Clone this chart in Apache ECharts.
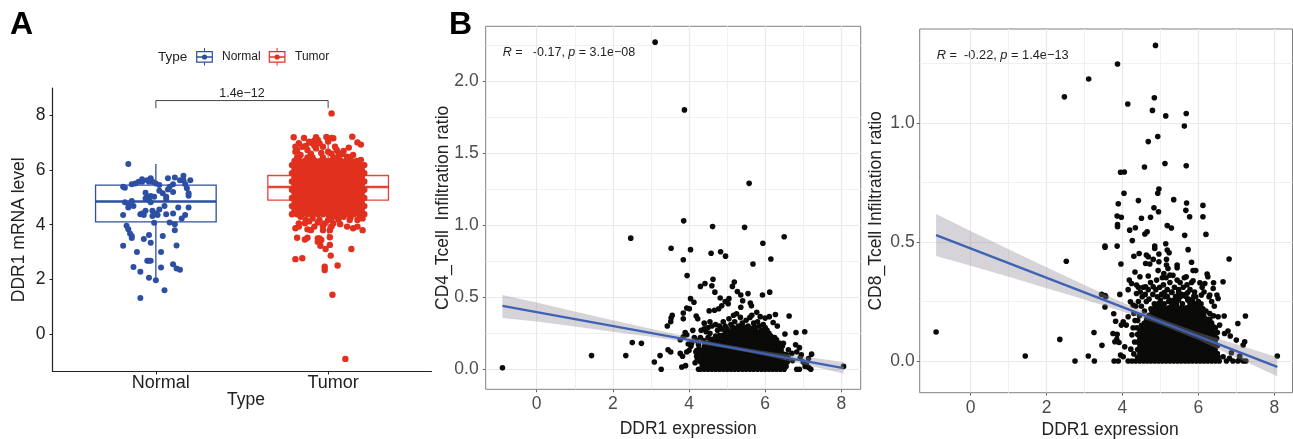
<!DOCTYPE html>
<html><head><meta charset="utf-8">
<style>html,body{margin:0;padding:0;background:#fff}#c{width:1293px;height:439px}</style>
<script src="https://cdn.jsdelivr.net/npm/echarts@6/dist/echarts.min.js"></script>
</head><body><div id="c"></div>
<script>
const typeNames = ['Normal', 'Tumor'];
// [centre, low whisker, Q1, median, Q3, high whisker]
const boxNormal = [1, 2.0, 4.1, 4.85, 5.45, 6.22];
const boxTumor = [2, 3.6, 4.9, 5.38, 5.8, 7.2];
const boxHalfWidth = 0.35;
const bracketValues = [[1, 8.26], [1, 8.54], [2, 8.54], [2, 8.26]];

const normalPoints = [[.84,6.22],[.81,5.39],[.82,5.35],[.86,5.48],[.88,5.51],[.90,5.57],[.92,5.66],[.92,5.57],[.95,5.63],[.97,5.70],[.96,5.57],[.98,5.57],[1.00,5.51],[1.02,5.45],[1.02,5.24],[1.07,5.70],[1.11,5.73],[1.16,5.79],[1.14,5.63],[1.16,5.63],[1.20,5.63],[1.17,5.49],[1.18,5.33],[1.19,5.15],[1.19,5.06],[1.10,5.48],[1.08,5.39],[1.07,5.29],[1.10,5.20],[1.04,5.15],[1.06,5.02],[1.06,4.94],[.94,5.17],[.95,5.02],[.97,5.05],[.99,5.02],[.94,4.96],[.96,4.90],[.97,4.82],[.82,4.82],[.84,4.76],[.86,4.87],[.87,4.68],[.84,4.63],[.81,4.35],[.92,4.41],[.94,4.51],[.91,4.38],[.93,4.35],[.98,4.51],[1.0,4.41],[.98,4.32],[1.01,4.35],[1.02,4.56],[1.05,4.68],[1.06,4.38],[1.10,4.41],[1.13,4.63],[1.19,4.63],[1.17,4.35],[1.15,4.23],[.99,4.07],[1.08,4.08],[1.11,4.02],[.83,3.96],[.84,3.83],[.85,3.68],[.86,3.59],[.86,3.51],[.96,3.62],[.93,3.48],[1.04,3.59],[1.11,3.80],[.97,3.34],[1.12,3.24],[.81,3.23],[.89,3.0],[1.03,3.0],[.95,2.68],[.96,2.68],[.97,2.68],[.87,2.45],[1.03,2.43],[1.10,2.55],[1.12,2.40],[1.14,2.35],[.91,2.28],[.96,2.06],[1.0,1.97],[1.05,1.60],[.91,1.32]];

const tumorSparse = [[1.80,7.20],[1.86,7.17],[1.93,7.20],[1.99,7.21],[2.02,7.17],[2.03,7.16],[2.14,7.22],[2.17,7.01],[2.19,6.93],[1.90,7.0],[1.92,7.07],[1.94,7.10],[1.83,6.98],[1.81,6.85],[1.85,6.85],[1.87,6.88],[1.89,7.04],[1.92,6.89],[1.95,6.98],[1.97,6.85],[2.0,7.04],[2.04,6.85],[2.05,6.73],[2.09,6.70],[2.12,6.82],[1.81,6.67],[1.82,6.73],[1.84,6.55],[1.88,6.73],[1.93,6.79],[2.0,6.67],[2.11,6.49],[2.145,6.55],[2.19,6.37],[1.81,3.87],[1.83,3.93],[1.82,3.52],[1.865,3.46],[1.88,3.52],[1.88,3.83],[1.90,3.80],[1.92,3.93],[1.97,3.80],[2.01,3.80],[2.02,3.93],[1.95,4.17],[2.03,4.05],[2.07,4.02],[2.11,3.93],[2.145,3.87],[2.17,3.93],[2.2,3.80],[2.2,4.23],[2.17,4.17],[2.125,4.17],[1.94,3.5],[1.95,3.5],[1.94,3.38],[1.96,3.44],[1.955,3.23],[2.01,3.54],[2.01,3.26],[1.985,3.11],[2.015,2.87],[2.135,3.11],[1.81,2.74],[1.85,2.77],[1.98,2.46],[1.98,2.34],[2.055,2.51],[2.025,1.44],[2.10,-0.91],[2.02,8.07],[1.84,4.29],[1.87,4.17],[1.91,4.23],[1.865,4.05],[1.83,4.05],[2,4.17],[2.05,4.29],[2.09,4.29],[1.98,4.05],[1.96,6.62],[2.02,6.6],[2.06,6.62],[1.9,6.6],[2.08,6.58],[1.94,4.08],[2.02,4.22],[2.13,4.26],[1.89,4.12],[1.97,3.95],[2.06,4.18]];
// overplotted mass: [y, [x...]] read row by row
const tumorMass = [
[4.38,[1.79,1.82,1.85,1.88,1.91,1.94,1.97,2.0,2.03,2.06,2.09,2.12,2.15,2.18,2.21]],
[4.53,[1.805,1.835,1.865,1.895,1.925,1.955,1.985,2.015,2.045,2.075,2.105,2.135,2.165,2.195]],
[4.68,[1.79,1.82,1.85,1.88,1.91,1.94,1.97,2.0,2.03,2.06,2.09,2.12,2.15,2.18,2.21]],
[4.83,[1.805,1.835,1.865,1.895,1.925,1.955,1.985,2.015,2.045,2.075,2.105,2.135,2.165,2.195]],
[4.98,[1.79,1.82,1.85,1.88,1.91,1.94,1.97,2.0,2.03,2.06,2.09,2.12,2.15,2.18,2.21]],
[5.13,[1.805,1.835,1.865,1.895,1.925,1.955,1.985,2.015,2.045,2.075,2.105,2.135,2.165,2.195]],
[5.28,[1.79,1.82,1.85,1.88,1.91,1.94,1.97,2.0,2.03,2.06,2.09,2.12,2.15,2.18,2.21]],
[5.43,[1.805,1.835,1.865,1.895,1.925,1.955,1.985,2.015,2.045,2.075,2.105,2.135,2.165,2.195]],
[5.58,[1.79,1.82,1.85,1.88,1.91,1.94,1.97,2.0,2.03,2.06,2.09,2.12,2.15,2.18,2.21]],
[5.73,[1.805,1.835,1.865,1.895,1.925,1.955,1.985,2.015,2.045,2.075,2.105,2.135,2.165,2.195]],
[5.88,[1.79,1.82,1.85,1.88,1.91,1.94,1.97,2.0,2.03,2.06,2.09,2.12,2.15,2.18,2.21]],
[6.03,[1.805,1.835,1.865,1.895,1.925,1.955,1.985,2.015,2.045,2.075,2.105,2.135,2.165,2.195]],
[6.18,[1.79,1.82,1.85,1.88,1.91,1.94,1.97,2.0,2.03,2.06,2.09,2.12,2.15,2.18,2.21]],
[6.33,[1.805,1.835,1.865,1.895,1.925,1.955,1.985,2.015,2.045,2.075,2.105,2.135,2.165]],
[6.46,[1.82,1.88,1.91,1.97,2.03,2.06,2.12]]];

const cd4Sparse = [[-0.90,.01],[3.11,2.27],[3.88,1.80],[5.58,1.29],[3.86,1.03],[4.62,.99],[5.46,.985],[2.47,.91],[6.50,.92],[5.94,.875],[3.53,.84],[4.04,.83],[4.58,.805],[4.83,.815],[4.96,.785],[3.85,.76],[6.15,.765],[5.68,.73],[3.95,.65],[4.63,.625],[5.19,.605],[4.42,.595],[4.30,.575],[4.60,.58],[5.14,.575],[5.27,.54],[4.68,.535],[6.12,.535],[5.36,.515],[5.55,.525],[5.93,.515],[4.04,.49],[4.13,.465],[4.82,.495],[5.05,.49],[5.41,.475],[4.95,.47],[5.61,.46],[5.03,.455],[4.86,.44],[5.64,.44],[5.36,.43],[3.94,.425],[4.01,.42],[4.53,.405],[4.67,.41],[4.78,.42],[3.85,.39],[3.56,.375],[3.53,.355],[3.85,.35],[3.43,.30],[3.52,.33],[4.19,.37],[4.23,.35],[6.63,.37],[6.27,.38],[6.11,.365],[5.78,.395],[5.65,.375],[5.25,.385],[5.17,.375],[5.87,.365],[6.0,.355],[6.21,.325],[6.32,.30],[5.95,.31],[6.81,.255],[7.04,.26],[6.52,.245],[3.90,.255],[3.94,.24],[3.85,.225],[3.77,.205],[2.51,.185],[2.75,.18],[1.44,.095],[2.34,.095],[3.24,.095],[3.09,.05],[3.27,0],[3.45,.135],[3.52,.12],[3.77,.11],[3.83,.09],[3.94,.12],[4.05,.16],[3.98,.175],[4.18,.12],[4.2,.09],[4.16,.045],[3.81,.015],[3.91,.025],[4.25,0],[8.06,.02],[6.80,.17],[6.90,.15],[6.83,.12],[7.22,.105],[7.14,.075],[7.09,.03],[7.2,0],[6.83,0],[6.9,0],[6.61,.135],[6.70,.11],[6.48,.18],[6.30,.205],[4.32,.27],[4.4,.28],[4.45,.26],[4.5,.29],[4.55,.25],[4.6,.3],[4.7,.31],[4.75,.27],[4.8,.3],[4.85,.28],[4.9,.33],[4.95,.3],[5,.28],[5.05,.35],[5.1,.31],[5.15,.29],[5.2,.33],[5.3,.3],[5.35,.36],[5.4,.32],[5.45,.29],[5.5,.34],[5.55,.3],[5.6,.36],[5.7,.32],[5.75,.29],[5.8,.33],[5.85,.3],[5.9,.27],[6,.29],[6.05,.27],[6.1,.25],[6.15,.23],[6.25,.22],[6.3,.19],[6.4,.18],[6.45,.16],[4.3,.22],[4.38,.2],[4.42,.18],[4.5,.22],[4.6,.2],[4.7,.23],[4.2,.2],[4.25,.17],[4.2,.13],[4.28,.1],[4.22,.07],[4.26,.14],[4.1,.27],[4.14,.22],[4.07,.18],[4.0,.13],[4.55,.33],[4.4,.32],[6.56,.1],[6.6,.08],[6.58,.05],[6.55,.02],[6.72,.06],[6.95,.1],[7.0,.05],[6.92,.08],[7.05,.02],[7.15,.01]];
const cd4Mass = [
[0,[4.3,4.4,4.5,4.6,4.7,4.8,4.9,5.0,5.1,5.2,5.3,5.4,5.5,5.6,5.7,5.8,5.9,6.0,6.1,6.2,6.3,6.4,6.5]],
[.026,[4.35,4.45,4.55,4.65,4.75,4.85,4.95,5.05,5.15,5.25,5.35,5.45,5.55,5.65,5.75,5.85,5.95,6.05,6.15,6.25,6.35,6.45]],
[.052,[4.3,4.4,4.5,4.6,4.7,4.8,4.9,5.0,5.1,5.2,5.3,5.4,5.5,5.6,5.7,5.8,5.9,6.0,6.1,6.2,6.3,6.4,6.5]],
[.078,[4.35,4.45,4.55,4.65,4.75,4.85,4.95,5.05,5.15,5.25,5.35,5.45,5.55,5.65,5.75,5.85,5.95,6.05,6.15,6.25,6.35,6.45]],
[.104,[4.3,4.4,4.5,4.6,4.7,4.8,4.9,5.0,5.1,5.2,5.3,5.4,5.5,5.6,5.7,5.8,5.9,6.0,6.1,6.2,6.3,6.4,6.5]],
[.13,[4.35,4.45,4.55,4.65,4.75,4.85,4.95,5.05,5.15,5.25,5.35,5.45,5.55,5.65,5.75,5.85,5.95,6.05,6.15,6.25,6.35,6.42]],
[.156,[4.4,4.5,4.6,4.7,4.8,4.9,5.0,5.1,5.2,5.3,5.4,5.5,5.6,5.7,5.8,5.9,6.0,6.1,6.2,6.3,6.36]],
[.182,[4.5,4.55,4.65,4.75,4.85,4.95,5.05,5.15,5.25,5.35,5.45,5.55,5.65,5.75,5.85,5.95,6.05,6.15,6.25,6.3]],
[.208,[4.6,4.7,4.8,4.9,5.0,5.1,5.2,5.3,5.4,5.5,5.6,5.7,5.8,5.9,6.0,6.1,6.2]],
[.234,[4.8,4.85,4.95,5.05,5.15,5.25,5.35,5.45,5.55,5.65,5.75,5.85,5.95,6.05,6.1]],
[.26,[4.95,5.05,5.15,5.25,5.35,5.45,5.55,5.65,5.75,5.85,5.95,6.0]],
[.286,[5.15,5.25,5.35,5.5,5.6,5.7]]];
const cd4Line = [[-0.9,.44],[8.06,.008]];
// [x, lower, upper]
const cd4Band = [[-.9,.355,.515],[0,.331,.463],[1,.297,.401],[2,.261,.341],[3,.225,.281],[4,.187,.223],[5,.144,.170],[6,.093,.125],[7,.034,.088],[8.06,-.03,.05]];

const cd8Sparse = [[4.87,1.326],[3.87,1.248],[3.11,1.185],[2.47,1.11],[4.84,1.106],[4.14,1.08],[4.79,1.053],[5.14,1.03],[5.68,1.04],[5.63,.987],[4.93,.943],[4.68,.922],[4.58,.815],[5.12,.83],[5.68,.82],[3.95,.793],[4.05,.794],[4.96,.723],[4.93,.705],[4.04,.705],[4.42,.674],[5.35,.678],[3.89,.661],[5.69,.664],[6.12,.654],[4.83,.644],[4.95,.627],[5.67,.633],[3.86,.609],[3.97,.604],[4.5,.60],[4.74,.604],[5.77,.606],[6.12,.606],[3.87,.573],[3.87,.564],[4.19,.55],[4.34,.56],[5.18,.569],[5.29,.559],[4.59,.534],[4.65,.543],[5.64,.528],[6.2,.532],[4.26,.506],[3.54,.483],[3.54,.478],[3.86,.483],[5.14,.493],[4.85,.483],[4.85,.473],[5.18,.466],[5.23,.455],[5.73,.468],[4.44,.452],[4.63,.445],[4.68,.438],[4.96,.45],[4.30,.44],[4.81,.427],[6.81,.429],[5.16,.427],[2.52,.419],[3.96,.408],[4.61,.41],[4.72,.408],[4.96,.417],[5.16,.403],[5.44,.403],[5.82,.415],[5.44,.392],[5.2,.389],[4.94,.38],[5.86,.38],[5.93,.38],[4.33,.374],[5.09,.368],[5.25,.361],[6.23,.366],[4.46,.354],[4.68,.357],[5.68,.354],[6.25,.354],[5.86,.337],[4.18,.34],[6.65,.333],[6.4,.329],[6.04,.329],[6.17,.326],[4.24,.326],[4.37,.319],[4.61,.312],[4.81,.312],[6.39,.305],[3.45,.28],[3.54,.275],[3.56,.27],[3.93,.28],[4.15,.30],[4.37,.284],[6.08,.277],[6.3,.277],[6.49,.277],[6.52,.263],[3.54,.227],[3.77,.199],[3.82,.167],[4.21,.249],[4.28,.235],[4.15,.186],[4.02,.165],[4.1,.151],[3.97,.151],[3.25,.12],[-.91,.122],[2.35,.091],[1.44,.021],[3.46,.066],[3.10,.021],[2.75,0],[3.26,0],[3.78,0],[3.89,0],[3.75,.116],[3.86,.112],[3.85,.091],[3.80,.081],[3.91,.078],[4.06,.06],[3.95,.025],[4.02,.018],[4.15,0],[8.08,.021],[7.24,.189],[7.04,.158],[6.68,.189],[6.52,.186],[6.56,.151],[6.78,.126],[6.84,.105],[6.69,.116],[7.0,.088],[7.22,.081],[7.18,.067],[6.87,.035],[7.09,.021],[6.65,.018],[6.74,0],[6.91,0],[7.04,0],[7.18,0],[7.25,0],[6.82,.011],[7.09,.007],[4.42,.31],[4.47,.29],[4.52,.27],[4.42,.25],[4.5,.23],[4.55,.31],[4.6,.28],[4.63,.25],[4.58,.21],[4.68,.3],[4.7,.26],[4.74,.33],[4.75,.22],[4.8,.28],[4.84,.24],[4.88,.3],[4.9,.34],[4.92,.27],[4.98,.31],[5.0,.24],[5.03,.28],[5.05,.35],[5.08,.32],[5.12,.27],[5.15,.35],[5.18,.3],[5.22,.25],[5.25,.33],[5.3,.29],[5.33,.36],[5.37,.31],[5.4,.27],[5.44,.34],[5.48,.3],[5.52,.33],[5.56,.28],[5.6,.31],[5.63,.35],[5.67,.28],[5.7,.32],[5.74,.26],[5.78,.3],[5.82,.33],[5.85,.24],[5.9,.29],[5.93,.27],[5.97,.22],[6.0,.25],[6.03,.2],[6.07,.24],[6.12,.22],[6.15,.18],[6.2,.21],[6.25,.17],[6.3,.2],[6.35,.16],[6.4,.19],[6.42,.23],[6.45,.14],[6.5,.12],[6.35,.25],[6.28,.27],[6.15,.29],[6.1,.31],[4.35,.23],[4.3,.2],[4.33,.17],[4.28,.14],[4.25,.11],[4.32,.08],[4.22,.05],[4.3,.03],[4.4,.17],[4.45,.19],[4.38,.14],[4.5,.15]];
const cd8Mass = [
[0,[4.25,4.35,4.45,4.55,4.65,4.75,4.85,4.95,5.05,5.15,5.25,5.35,5.45,5.55,5.65,5.75,5.85,5.95,6.05,6.15,6.25,6.35,6.45,6.55]],
[.016,[4.4,4.52,4.64,4.76,4.88,5.0,5.12,5.24,5.36,5.48,5.6,5.72,5.84,5.96,6.08,6.2,6.32,6.44,6.52]],
[.032,[4.46,4.58,4.7,4.82,4.94,5.06,5.18,5.3,5.42,5.54,5.66,5.78,5.9,6.02,6.14,6.26,6.38,6.5]],
[.048,[4.4,4.52,4.64,4.76,4.88,5.0,5.12,5.24,5.36,5.48,5.6,5.72,5.84,5.96,6.08,6.2,6.32,6.44]],
[.064,[4.46,4.58,4.7,4.82,4.94,5.06,5.18,5.3,5.42,5.54,5.66,5.78,5.9,6.02,6.14,6.26,6.38,6.5]],
[.08,[4.4,4.52,4.64,4.76,4.88,5.0,5.12,5.24,5.36,5.48,5.6,5.72,5.84,5.96,6.08,6.2,6.32,6.44]],
[.096,[4.46,4.58,4.7,4.82,4.94,5.06,5.18,5.3,5.42,5.54,5.66,5.78,5.9,6.02,6.14,6.26,6.38,6.48]],
[.112,[4.4,4.52,4.64,4.76,4.88,5.0,5.12,5.24,5.36,5.48,5.6,5.72,5.84,5.96,6.08,6.2,6.32,6.44]],
[.128,[4.46,4.58,4.7,4.82,4.94,5.06,5.18,5.3,5.42,5.54,5.66,5.78,5.9,6.02,6.14,6.26,6.38]],
[.144,[4.52,4.64,4.76,4.88,5.0,5.12,5.24,5.36,5.48,5.6,5.72,5.84,5.96,6.08,6.2,6.32,6.4]],
[.16,[4.58,4.7,4.82,4.94,5.06,5.18,5.3,5.42,5.54,5.66,5.78,5.9,6.02,6.14,6.26,6.34]],
[.176,[4.64,4.76,4.88,5.0,5.12,5.24,5.36,5.48,5.6,5.72,5.84,5.96,6.08,6.2,6.3]],
[.192,[4.7,4.82,4.94,5.06,5.18,5.3,5.42,5.54,5.66,5.78,5.9,6.02,6.14]],
[.208,[4.78,4.9,5.02,5.14,5.26,5.38,5.5,5.62,5.74,5.86,5.98,6.1]],
[.224,[4.86,4.98,5.1,5.22,5.34,5.46,5.58,5.7,5.82,5.94,6.06]],
[.24,[4.94,5.1,5.3,5.42,5.58,5.78,5.9,6.0]],
[.256,[5.0,5.24,5.36,5.48,5.72,5.84]],
[.272,[5.18,5.42,5.54,5.66,5.88]],
[.288,[5.1,5.3,5.48,5.72]]];
const cd8Line = [[-0.91,.529],[8.08,-.024]];
const cd8Band = [[-.91,.441,.618],[0,.400,.546],[1,.354,.470],[2,.306,.394],[3,.259,.319],[4,.208,.246],[5,.153,.179],[6,.088,.120],[7,.015,.071],[8.08,-.064,.016]];

const majorX = [0, 2, 4, 6, 8];
const minorX = [1, 3, 5, 7];
const cd4MajorY = [0, .5, 1, 1.5, 2];
const cd4MinorY = [.25, .75, 1.25, 1.75, 2.25];
const cd8MajorY = [0, .5, 1];
const cd8MinorY = [.25, .75, 1.25];
const typeTicks = [1, 2];
const mrnaTicks = [0, 2, 4, 6, 8];

const expand = t => t.flatMap(([y, xs]) => xs.map(x => [x, y]));
const FONT = '"Liberation Sans", Arial, sans-serif';
const BLUE = '#2c4ea3', RED = '#e1301e', BLACK = '#0a0a08';

function mainAx(grid, pos, min, max, ticks, fmt, name, gap, pad, margin) {
  return {
    type: 'value', gridIndex: grid, position: pos, min, max, name, nameLocation: 'middle', nameGap: gap,
    nameMoveOverlap: false,
    nameTextStyle: { color: '#222', fontSize: 17.5, fontFamily: FONT, padding: pad },
    axisLine: { show: false, onZero: false },
    axisTick: { show: true, length: 3, customValues: ticks, lineStyle: { color: '#666', width: 1 } },
    axisLabel: { customValues: ticks, formatter: fmt, color: '#4d4d4d', fontSize: 17.5, fontFamily: FONT, margin, hideOverlap: false },
    splitLine: { show: true, lineStyle: { color: '#e9e9e9', width: 1.2 } }
  };
}
function minorAx(grid, pos, min, max, ticks) {
  return {
    type: 'value', gridIndex: grid, position: pos, min, max,
    axisLine: { show: false, onZero: false }, axisLabel: { show: false },
    axisTick: { show: false, customValues: ticks },
    splitLine: { show: true, lineStyle: { color: '#f0f0f0', width: 1 } }
  };
}
const f1 = v => v.toFixed(1);
const f0 = v => String(v);

function scatter(xi, yi, data, color, size) {
  return { type: 'scatter', xAxisIndex: xi, yAxisIndex: yi, data, symbolSize: size, z: 3, silent: true,
    itemStyle: { color, opacity: 1 } };
}
function lineSeries(xi, yi, data) {
  return { type: 'line', xAxisIndex: xi, yAxisIndex: yi, data, showSymbol: false, z: 5, silent: true,
    lineStyle: { color: '#3f62b4', width: 2.4 } };
}
function bandSeries(xi, yi, rows) {
  return { type: 'custom', xAxisIndex: xi, yAxisIndex: yi, z: 4, silent: true, data: [0],
    encode: { x: [], y: [] },
    renderItem: (p, api) => {
      const pts = rows.map(r => api.coord([r[0], r[2]])).concat(rows.slice().reverse().map(r => api.coord([r[0], r[1]])));
      return { type: 'polygon', shape: { points: pts }, style: { fill: 'rgba(140,135,150,0.36)', stroke: 'none' } };
    } };
}
function boxSeries(stat, color) {
  return { type: 'custom', xAxisIndex: 0, yAxisIndex: 0, z: 2, silent: true, data: [stat],
    encode: { x: 0, y: [1, 2, 3, 4, 5] },
    renderItem: (p, api) => {
      const c = stat[0], C = v => api.coord(v);
      const L = (a, b, w) => ({ type: 'line', shape: { x1: a[0], y1: a[1], x2: b[0], y2: b[1] }, style: { stroke: color, lineWidth: w } });
      const tl = C([c - boxHalfWidth, stat[4]]), br = C([c + boxHalfWidth, stat[2]]);
      return { type: 'group', children: [
        L(C([c, stat[1]]), C([c, stat[2]]), 1.3),
        L(C([c, stat[4]]), C([c, stat[5]]), 1.3),
        { type: 'rect', shape: { x: tl[0], y: tl[1], width: br[0] - tl[0], height: br[1] - tl[1] }, style: { fill: 'none', stroke: color, lineWidth: 1.3 } },
        L(C([c - boxHalfWidth, stat[3]]), C([c + boxHalfWidth, stat[3]]), 2.4)
      ] };
    } };
}
const bracket = { type: 'custom', xAxisIndex: 0, yAxisIndex: 0, z: 4, silent: true, data: [0], encode: { x: [], y: [] },
  renderItem: (p, api) => {
    const pts = bracketValues.map(v => api.coord(v));
    const c = api.coord([1.5, 8.54]);
    return { type: 'group', children: [
      { type: 'polyline', shape: { points: pts }, style: { fill: 'none', stroke: '#444', lineWidth: 1 } },
      { type: 'text', style: { text: '1.4e\u221212', x: c[0], y: c[1] - 0.5, align: 'center', verticalAlign: 'bottom', fill: '#222', fontSize: 12.5, fontFamily: FONT } }
    ] };
  } };

function legendKey(x, color) {
  const cx = x + 7.8;
  return [
    { type: 'line', shape: { x1: cx, y1: 48, x2: cx, y2: 65.5 }, style: { stroke: color, lineWidth: 1 } },
    { type: 'rect', shape: { x, y: 51.7, width: 15.6, height: 10.4 }, style: { fill: '#fff', stroke: color, lineWidth: 1.2 } },
    { type: 'line', shape: { x1: x, y1: 57, x2: x + 15.6, y2: 57 }, style: { stroke: color, lineWidth: 1.5 } },
    { type: 'circle', shape: { cx, cy: 57, r: 2.6 }, style: { fill: color } }
  ];
}
function txt(text, x, y, size, weight, fill) {
  return { type: 'text', x, y, style: { text, fontSize: size, fontWeight: weight || 'normal', fontFamily: FONT, fill: fill || '#222', verticalAlign: 'middle', align: 'left',
    rich: { i: { fontStyle: 'italic', fontSize: size, fontFamily: FONT, fill: fill || '#222' } } } };
}

const option = {
  animation: false, backgroundColor: '#fff',
  grid: [
    { left: 52.5, top: 88, width: 379, height: 283.5, outerBoundsMode: 'none' },
    { left: 485.7, top: 26.3, width: 375, height: 363, outerBoundsMode: 'none', show: true, borderColor: '#808080', borderWidth: 1, backgroundColor: 'transparent' },
    { left: 919.7, top: 29, width: 372.8, height: 363.7, outerBoundsMode: 'none', show: true, borderColor: '#808080', borderWidth: 1, backgroundColor: 'transparent' }
  ],
  xAxis: [
    { type: 'value', gridIndex: 0, position: 'bottom', min: 0.4, max: 2.6, name: 'Type', nameLocation: 'middle', nameGap: 20,
      nameMoveOverlap: false,
      nameTextStyle: { color: '#222', fontSize: 17.5, fontFamily: FONT, padding: [0, 0, 0, 8] },
      axisLine: { show: true, onZero: false, lineStyle: { color: '#222', width: 1.2 } },
      axisTick: { show: true, length: 3, customValues: typeTicks, lineStyle: { color: '#222' } },
      axisLabel: { customValues: typeTicks, formatter: v => typeNames[v - 1], color: '#222', fontSize: 18, fontFamily: FONT, margin: 3, padding: [0, 0, 0, 10] },
      splitLine: { show: false } },
    mainAx(1, 'bottom', -1.34, 8.51, majorX, f0, 'DDR1 expression', 31, [0, 0, 0, 30], 6),
    mainAx(2, 'bottom', -1.342, 8.48, majorX, f0, 'DDR1 expression', 28, [0, 0, 0, 8], 6),
    minorAx(1, 'bottom', -1.34, 8.51, minorX),
    minorAx(2, 'bottom', -1.342, 8.48, minorX)
  ],
  yAxis: [
    { type: 'value', gridIndex: 0, position: 'left', min: -1.37, max: 9, name: 'DDR1 mRNA level', nameLocation: 'middle', nameGap: 19,
      nameMoveOverlap: false,
      nameTextStyle: { color: '#222', fontSize: 17.5, fontFamily: FONT, padding: [0, 0, 5, 0] },
      axisLine: { show: true, onZero: false, lineStyle: { color: '#222', width: 1.2 } },
      axisTick: { show: true, length: 3, customValues: mrnaTicks, lineStyle: { color: '#222' } },
      axisLabel: { customValues: mrnaTicks, formatter: f0, color: '#222', fontSize: 17.5, fontFamily: FONT, margin: 7 },
      splitLine: { show: false } },
    mainAx(1, 'left', -0.139, 2.38, cd4MajorY, f1, 'CD4_Tcell  Infiltration ratio', 30, [0, 0, 4, 0], 7),
    mainAx(2, 'left', -0.133, 1.395, cd8MajorY, f1, 'CD8_Tcell Infiltration ratio', 29, [0, 0, 6, 0], 5),
    minorAx(1, 'left', -0.139, 2.38, cd4MinorY),
    minorAx(2, 'left', -0.133, 1.395, cd8MinorY)
  ],
  series: [
    boxSeries(boxNormal, BLUE), boxSeries(boxTumor, '#e8443a'),
    scatter(0, 0, normalPoints, BLUE, 6),
    scatter(0, 0, tumorSparse.concat(expand(tumorMass)), RED, 6.4),
    bracket,
    scatter(1, 1, cd4Sparse.concat(expand(cd4Mass)), BLACK, 5.6),
    bandSeries(1, 1, cd4Band), lineSeries(1, 1, cd4Line),
    scatter(2, 2, cd8Sparse.concat(expand(cd8Mass)), BLACK, 5.6),
    bandSeries(2, 2, cd8Band), lineSeries(2, 2, cd8Line)
  ],
  graphic: { elements: [
    txt('A', 10, 25, 32, 'bold', '#000'),
    txt('B', 449, 25, 32, 'bold', '#000'),
    txt('Type', 158, 57, 13.5),
    ...legendKey(196.7, BLUE),
    txt('Normal', 222, 57, 12),
    ...legendKey(269.3, RED),
    txt('Tumor', 295, 57, 12),
    txt('{i|R} =   -0.17, {i|p} = 3.1e\u221208', 502.7, 52.7, 12.5),
    txt('{i|R} =  -0.22, {i|p} = 1.4e\u221213', 936.7, 55, 12.8)
  ] }
};
echarts.init(document.getElementById('c'), null, { renderer: 'canvas' }).setOption(option);
</script></body></html>
